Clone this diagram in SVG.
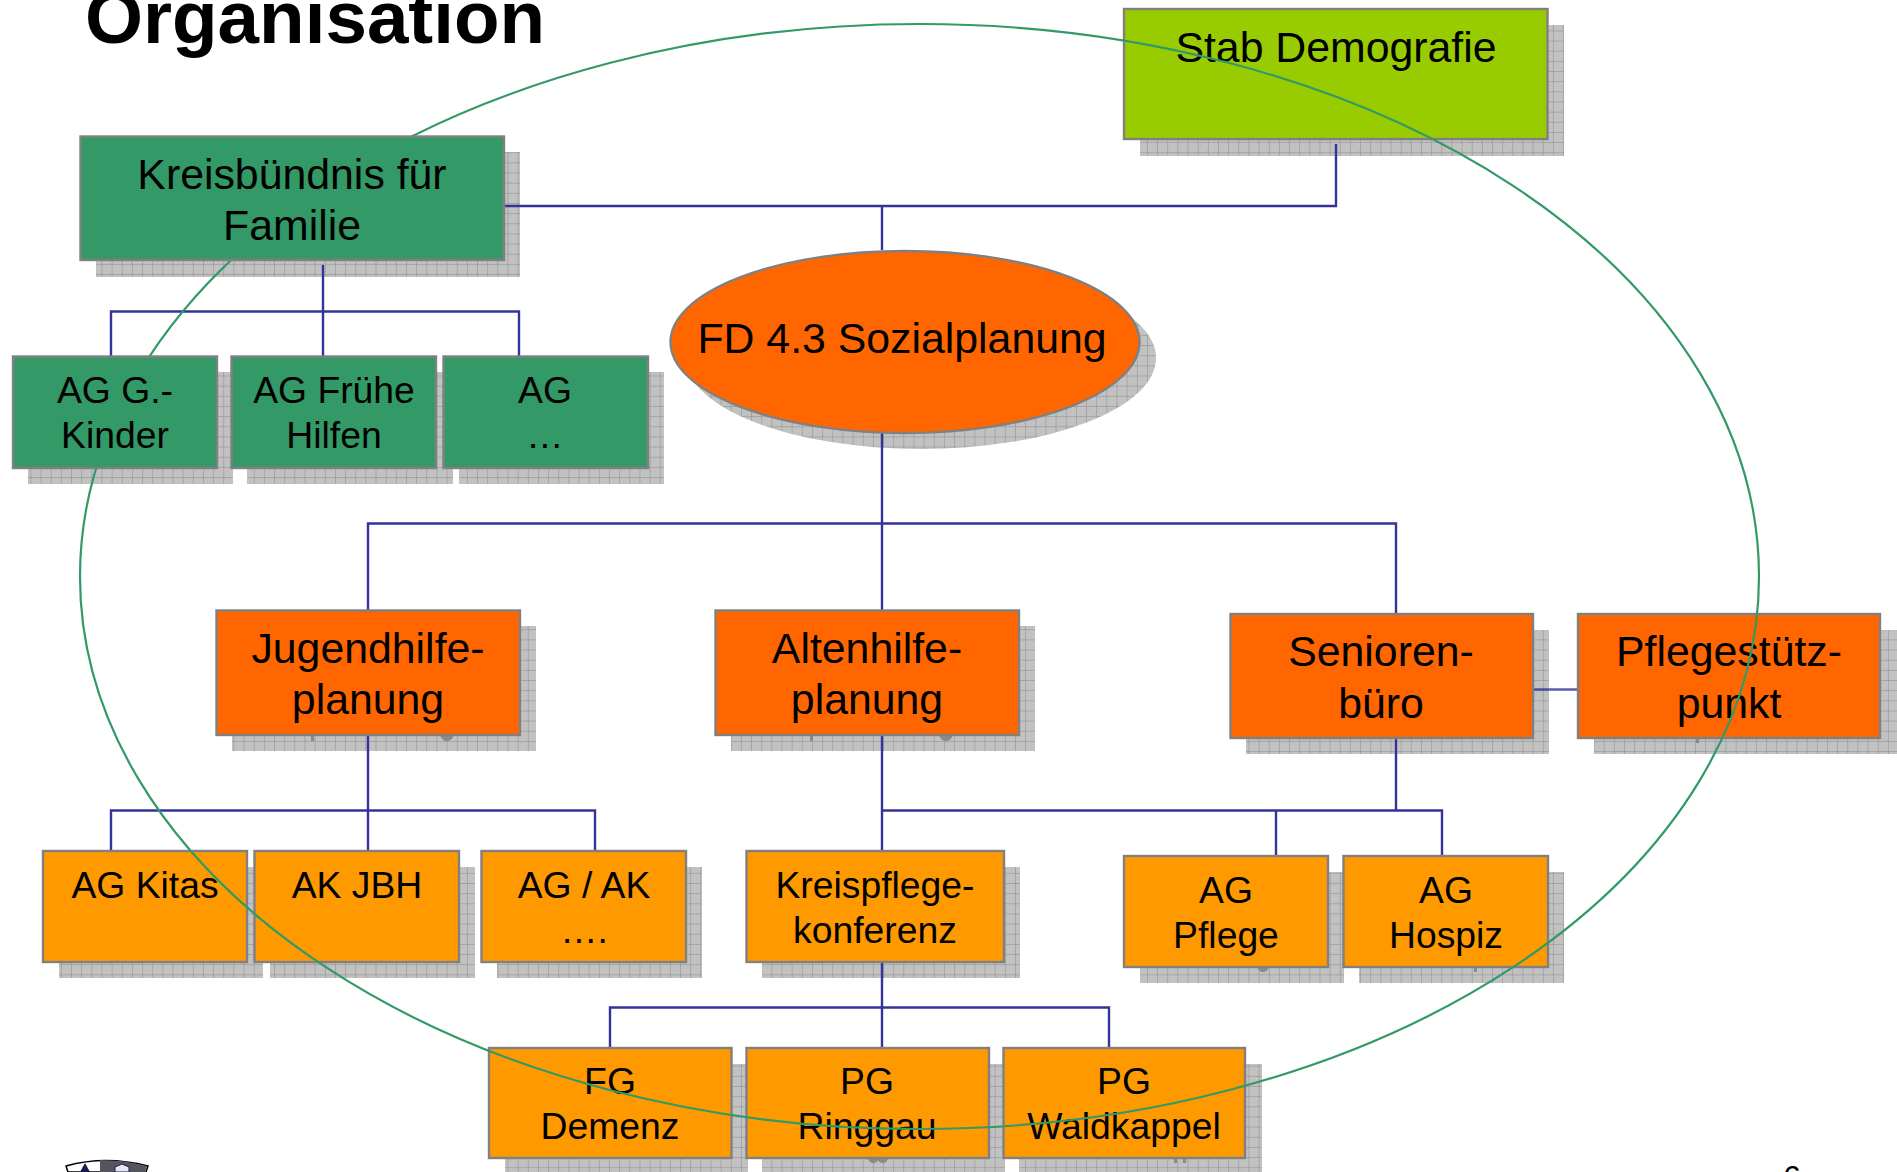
<svg xmlns="http://www.w3.org/2000/svg" width="1897" height="1172" viewBox="0 0 1897 1172">
<defs>
<pattern id="fine" width="2" height="2" patternUnits="userSpaceOnUse"><rect width="2" height="2" fill="#cfcfcf"/><rect width="1" height="1" fill="#b4b4b4"/><rect x="1" y="1" width="1" height="1" fill="#b4b4b4"/></pattern>
<pattern id="grid" width="10.15" height="10.15" patternUnits="userSpaceOnUse"><rect width="10.15" height="10.15" fill="url(#fine)"/><path d="M0 0H10.15M0 0V10.15" stroke="#9a9a9a" stroke-width="1.4" fill="none"/></pattern>
</defs>
<style>
text{font-family:"Liberation Sans",Arial,sans-serif;fill:#000;text-anchor:middle}
.t{font-size:42.8px}.s{font-size:37.3px}
.title{font-size:74.6px;font-weight:bold;text-anchor:start}
.sh{fill:url(#grid)}
.b{stroke:#808080;stroke-width:2.4}
.g{fill:#339966}.o{fill:#FF6600}.a{fill:#FF9900}.l{fill:#99CC00}
.c{fill:none;stroke:#333399;stroke-width:2.4}
.e{fill:none;stroke:#339966;stroke-width:2.2}
</style>
<rect width="1897" height="1172" fill="#fff"/>
<text class="title" x="85" y="43">Organisation</text>
<g id="logo">
<path d="M66 1166Q105 1155 148 1166L146 1172H68Z" fill="#fff" stroke="#000" stroke-width="1.5"/>
<path d="M100 1160Q125 1160 147 1166L145 1172H100Z" fill="#55555f"/>
<path d="M80 1172L85 1163L90 1172Z" fill="#1c1c4a"/>
<path d="M115 1172V1167L122 1164L129 1167V1172Z" fill="#e8e8f0" stroke="#1c1c4a"/>
</g>
<text x="1792" y="1188" style="font-size:32px">6</text>
<g id="shadows">
<rect class="sh" x="1140" y="25" width="424" height="131"/>
<rect class="sh" x="96" y="152" width="424" height="125"/>
<rect class="sh" x="28" y="372" width="205" height="112"/>
<rect class="sh" x="247" y="372" width="206" height="112"/>
<rect class="sh" x="459" y="372" width="205" height="112"/>
<ellipse class="sh" cx="921" cy="358" rx="235" ry="91"/>
<rect class="sh" x="232" y="626" width="304" height="125"/>
<rect class="sh" x="731" y="626" width="304" height="125"/>
<rect class="sh" x="1246" y="630" width="303" height="124"/>
<rect class="sh" x="1594" y="630" width="303" height="124"/>
<rect class="sh" x="59" y="867" width="204" height="111"/>
<rect class="sh" x="270" y="867" width="205" height="111"/>
<rect class="sh" x="497" y="867" width="205" height="111"/>
<rect class="sh" x="762" y="867" width="258" height="111"/>
<rect class="sh" x="1140" y="872" width="204" height="111"/>
<rect class="sh" x="1359" y="872" width="205" height="111"/>
<rect class="sh" x="505" y="1064" width="243" height="108"/>
<rect class="sh" x="762" y="1064" width="243" height="108"/>
<rect class="sh" x="1019" y="1064" width="243" height="108"/>
<path d="M311 735h3v6h-3zM440 735h14q-2 6-7 6t-7-6zM810 735h3v6h-3zM939 735h14q-2 6-7 6t-7-6zM1696 738h3v5h-3zM1257 967h12q-2 5-6 5t-6-5zM1474 967h3v5h-3zM868 1158h20q-1 5-5 5t-5-3q-1 3-5 3t-5-5zM1174 1158h3v5h-3zM1183 1158h3v5h-3z" fill="#8a8a8a"/>
</g>
<g id="connectors">
<path class="c" d="M504 206H1336V144M882 206V250M882 433V610M368 611V523.500H1396V614"/>
<path class="c" d="M323 265V356M111 356V311.500H519V356"/>
<path class="c" d="M368 735V851M111 851V810.500H595V851"/>
<path class="c" d="M882 735V851M882 810.500H1442V856M1396 738V810M1276 810V856"/>
<path class="c" d="M882 962V1048M610 1048V1007.500H1109V1048"/>
<path class="c" stroke-opacity=".8" d="M1533 689.500H1578"/>
</g>
<g id="n-stab"><rect class="b l" x="1124" y="9" width="423.500" height="130"/><text class="t" x="1336" y="62">Stab Demografie</text></g>
<g id="n-sozial"><ellipse class="b o" cx="905" cy="342" rx="234.500" ry="91"/><text class="t" x="902" y="353">FD 4.3 Sozialplanung</text></g>
<g id="n-jugend"><rect class="b o" x="216.500" y="610.500" width="303.500" height="124.500"/><text class="t" x="368" y="663">Jugendhilfe-</text><text class="t" x="368" y="714">planung</text></g>
<g id="n-alten"><rect class="b o" x="715.500" y="610.500" width="303.500" height="124.500"/><text class="t" x="867" y="663">Altenhilfe-</text><text class="t" x="867" y="714">planung</text></g>
<g id="n-senioren"><rect class="b o" x="1230.500" y="614" width="302.500" height="124"/><text class="t" x="1381" y="666">Senioren-</text><text class="t" x="1381" y="718">büro</text></g>
<g id="n-pflegestuetz"><rect class="b o" x="1578" y="614" width="302" height="124"/><text class="t" x="1729" y="666">Pflegestütz-</text><text class="t" x="1729" y="718">punkt</text></g>
<g id="n-kitas"><rect class="b a" x="43" y="851" width="204" height="111"/><text class="s" x="145" y="898">AG Kitas</text></g>
<g id="n-jbh"><rect class="b a" x="254.500" y="851" width="204.500" height="111"/><text class="s" x="357" y="898">AK JBH</text></g>
<g id="n-agak"><rect class="b a" x="481.500" y="851" width="204.500" height="111"/><text class="s" x="584" y="898">AG / AK</text><text class="s" x="584" y="943">….</text></g>
<g id="n-kreispflege"><rect class="b a" x="746.500" y="851" width="257.500" height="111"/><text class="s" x="875" y="898">Kreispflege-</text><text class="s" x="875" y="943">konferenz</text></g>
<g id="n-agpflege"><rect class="b a" x="1124" y="856" width="204" height="111"/><text class="s" x="1226" y="903">AG</text><text class="s" x="1226" y="948">Pflege</text></g>
<g id="n-hospiz"><rect class="b a" x="1343.500" y="856" width="204.500" height="111"/><text class="s" x="1446" y="903">AG</text><text class="s" x="1446" y="948">Hospiz</text></g>
<g id="n-demenz"><rect class="b a" x="489" y="1048" width="242.500" height="110"/><text class="s" x="610" y="1094">FG</text><text class="s" x="610" y="1139">Demenz</text></g>
<g id="n-ringgau"><rect class="b a" x="746.500" y="1048" width="242.500" height="110"/><text class="s" x="867" y="1094">PG</text><text class="s" x="867" y="1139">Ringgau</text></g>
<g id="n-waldkappel"><rect class="b a" x="1003.500" y="1048" width="241.500" height="110"/><text class="s" x="1124" y="1094">PG</text><text class="s" x="1124" y="1139">Waldkappel</text></g>
<ellipse id="umbrella" class="e" cx="919.5" cy="576.5" rx="839.5" ry="552.5"/>
<g id="n-kreisbuendnis"><rect class="b g" x="80.500" y="136.500" width="423.500" height="123.500"/><text class="t" x="292" y="189">Kreisbündnis für</text><text class="t" x="292" y="240">Familie</text></g>
<g id="n-agkinder"><rect class="b g" x="13" y="356.500" width="204" height="111.500"/><text class="s" x="115" y="403">AG G.-</text><text class="s" x="115" y="448">Kinder</text></g>
<g id="n-fruehe"><rect class="b g" x="231.500" y="356.500" width="204.500" height="111.500"/><text class="s" x="334" y="403">AG Frühe</text><text class="s" x="334" y="448">Hilfen</text></g>
<g id="n-ag"><rect class="b g" x="443.500" y="356.500" width="204.500" height="111.500"/><text class="s" x="545" y="403">AG</text><text class="s" x="545" y="448">…</text></g>
</svg>
